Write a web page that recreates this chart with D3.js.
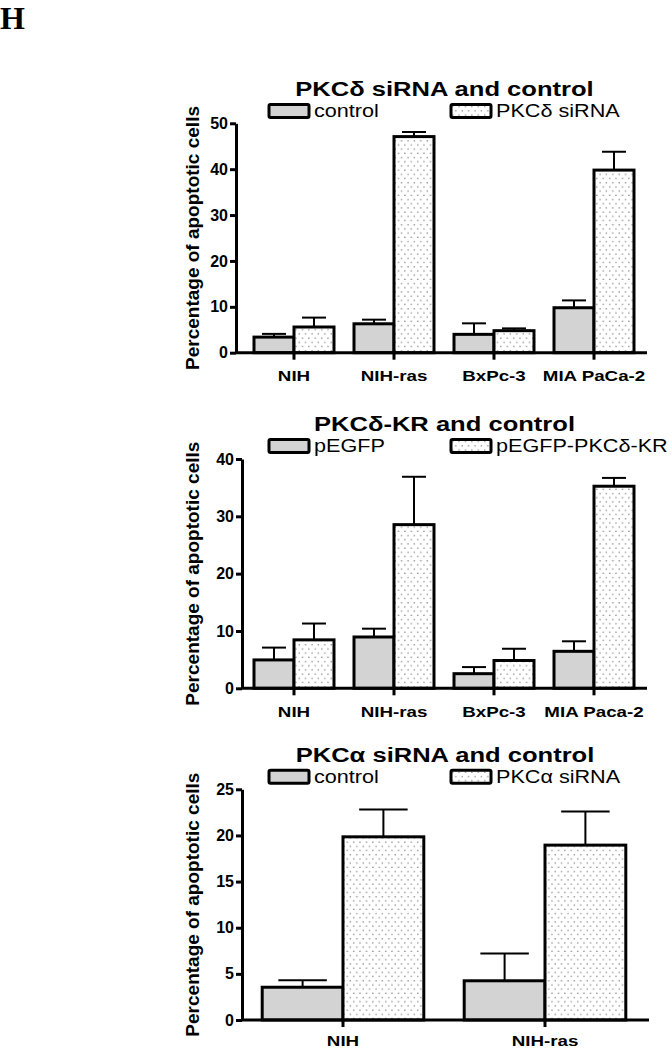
<!DOCTYPE html>
<html>
<head>
<meta charset="utf-8">
<script src="https://cdn.jsdelivr.net/npm/d3@7"></script>
<style>
    body { margin: 0; background: #fff; }
    svg text { font-family: "Liberation Sans", Arial, sans-serif; }
</style>
</head>
<body>
<div class="chart-area"></div>
<script>

// panel 1 - PKCδ siRNA
let cells1 = ["NIH", "NIH-ras", "BxPc-3", "MIA PaCa-2"];
let control1 = [3.4, 6.3, 4.0, 9.8];
let controlErr1 = [0.7, 0.9, 2.4, 1.6];
let treated1 = [5.6, 47.1, 4.8, 39.8];
let treatedErr1 = [2.05, 1.0, 0.5, 4.0];
let ticks1 = [0, 10, 20, 30, 40, 50];

// panel 2 - PKCδ-KR
let cells2 = ["NIH", "NIH-ras", "BxPc-3", "MIA Paca-2"];
let control2 = [4.95, 8.95, 2.55, 6.45];
let controlErr2 = [2.15, 1.45, 1.15, 1.75];
let treated2 = [8.45, 28.55, 4.85, 35.25];
let treatedErr2 = [2.85, 8.35, 2.05, 1.45];
let ticks2 = [0, 10, 20, 30, 40];

// panel 3 - PKCα siRNA
let cells3 = ["NIH", "NIH-ras"];
let control3 = [3.55, 4.25];
let controlErr3 = [0.75, 2.95];
let treated3 = [19.85, 18.95];
let treatedErr3 = [2.95, 3.65];
let ticks3 = [0, 5, 10, 15, 20, 25];


// stretch text horizontally (the source figure is a bit wide)
function stretch(sel, k) {
    sel.each(function () {
        let w = this.getComputedTextLength();
        d3.select(this)
            .attr("textLength", w * k)
            .attr("lengthAdjust", "spacingAndGlyphs");
    });
}

class GroupedBarVis {

    constructor(_svg, _opts) {
        this.svg = _svg;
        this.opts = _opts;
        this.displayData = [];

        this.initVis();
    };

    initVis() {
        let vis = this;
        let o = vis.opts;

        vis.g = vis.svg.append("g");

        // scales
        vis.y = d3.scaleLinear()
            .domain([0, d3.max(o.ticks)])
            .range([o.y0, o.yTop]);

        vis.x = d3.scaleBand()
            .domain(o.cells)
            .range(o.xRange)
            .paddingInner(0.2)
            .paddingOuter(0.1);

        vis.xSub = d3.scaleBand()
            .domain([0, 1])
            .range([0, vis.x.bandwidth()]);

        this.wrangleData();
    };

    wrangleData() {
        let vis = this;
        let o = vis.opts;

        o.cells.forEach(function (c, i) {
            vis.displayData.push({cell: c, series: 0, value: o.control[i], err: o.controlErr[i]});
            vis.displayData.push({cell: c, series: 1, value: o.treated[i], err: o.treatedErr[i]});
        });

        this.updateVis();
    };

    updateVis() {
        let vis = this;
        let o = vis.opts;
        let bw = vis.xSub.bandwidth();
        let cap = bw * 0.6;

        // title
        vis.g.append("text")
            .attr("x", o.titleX)
            .attr("y", o.titleY)
            .attr("text-anchor", "middle")
            .style("font-weight", "bold")
            .style("font-size", "19.5px")
            .text(o.title)
            .call(stretch, 1.31);

        // legend
        let legend = vis.g.selectAll(".legend")
            .data(o.legend)
            .enter().append("g")
            .attr("class", "legend")
            .attr("transform", (d, i) => "translate(" + o.legendX[i] + "," + (o.titleY + 8.5) + ")");

        legend.append("rect")
            .attr("width", 40)
            .attr("height", 13)
            .attr("rx", 1.5)
            .attr("fill", (d, i) => i === 0 ? "#d3d3d3" : "url(#dots)")
            .attr("stroke", "black")
            .attr("stroke-width", 3);

        legend.append("text")
            .attr("x", 45)
            .attr("y", 12.5)
            .style("font-size", "18px")
            .text(d => d)
            .call(stretch, 1.2);

        // error bars (drawn first, bar tops cover the base)
        let errs = vis.g.selectAll(".err")
            .data(vis.displayData)
            .enter().append("g")
            .attr("class", "err")
            .attr("stroke", "black")
            .attr("stroke-width", 2);

        errs.append("line")
            .attr("x1", d => vis.x(d.cell) + vis.xSub(d.series) + bw / 2)
            .attr("x2", d => vis.x(d.cell) + vis.xSub(d.series) + bw / 2)
            .attr("y1", d => vis.y(d.value))
            .attr("y2", d => vis.y(d.value + d.err));

        errs.append("line")
            .attr("x1", d => vis.x(d.cell) + vis.xSub(d.series) + bw / 2 - cap / 2)
            .attr("x2", d => vis.x(d.cell) + vis.xSub(d.series) + bw / 2 + cap / 2)
            .attr("y1", d => vis.y(d.value + d.err))
            .attr("y2", d => vis.y(d.value + d.err));

        // bars
        vis.g.selectAll(".bar")
            .data(vis.displayData)
            .enter().append("rect")
            .attr("class", "bar")
            .attr("x", d => vis.x(d.cell) + vis.xSub(d.series))
            .attr("y", d => vis.y(d.value))
            .attr("width", bw)
            .attr("height", d => vis.y(0) - vis.y(d.value))
            .attr("fill", d => d.series === 0 ? "#d3d3d3" : "url(#dots)")
            .attr("stroke", "black")
            .attr("stroke-width", 3);

        // y axis
        let yAxis = vis.g.append("g")
            .attr("transform", "translate(" + o.axisX + ",0)")
            .call(d3.axisLeft(vis.y).tickValues(o.ticks).tickSize(6).tickSizeOuter(0).tickPadding(2));
        yAxis.select(".domain").attr("stroke-width", 3);
        yAxis.selectAll(".tick line").attr("stroke-width", 3);
        yAxis.selectAll("text")
            .style("font-size", "16px")
            .style("font-weight", "bold")
            .attr("fill", "black");

        // x axis
        let xAxis = vis.g.append("g")
            .attr("transform", "translate(0," + o.y0 + ")")
            .call(d3.axisBottom(vis.x).tickSize(7).tickSizeOuter(0).tickPadding(o.labelPad));
        xAxis.select(".domain").remove();
        xAxis.selectAll(".tick line").attr("stroke-width", 3);
        xAxis.selectAll("text")
            .style("font-size", "15px")
            .style("font-weight", "bold")
            .attr("fill", "black")
            .call(stretch, 1.25);

        vis.g.append("line")
            .attr("x1", o.axisX)
            .attr("x2", o.xRange[1] + 3)
            .attr("y1", o.y0)
            .attr("y2", o.y0)
            .attr("stroke", "black")
            .attr("stroke-width", 3);

        // y axis label
        vis.g.append("text")
            .attr("transform", "translate(192," + (o.y0 + o.yTop) / 2 + ") rotate(-90)")
            .attr("text-anchor", "middle")
            .attr("dy", "0.35em")
            .style("font-size", "19px")
            .style("font-weight", "bold")
            .text("Percentage of apoptotic cells");
    };
}

let svg = d3.select(".chart-area").append("svg")
    .attr("width", 672)
    .attr("height", 1050);

// dotted fill for treated bars
let pat = svg.append("defs").append("pattern")
    .attr("id", "dots")
    .attr("patternUnits", "userSpaceOnUse")
    .attr("width", 6.4)
    .attr("height", 8.4);
pat.append("rect").attr("width", 6.4).attr("height", 8.4).attr("fill", "white");
pat.append("rect").attr("x", 1).attr("y", 1.5).attr("width", 1.3).attr("height", 1.3).attr("fill", "#8a8a8a");
pat.append("rect").attr("x", 4.2).attr("y", 5.7).attr("width", 1.3).attr("height", 1.3).attr("fill", "#8a8a8a");

// panel letter
svg.append("text")
    .attr("x", 0)
    .attr("y", 29)
    .style("font-family", "'Liberation Serif', 'Times New Roman', serif")
    .style("font-weight", "bold")
    .style("font-size", "32px")
    .text("H");

new GroupedBarVis(svg, {
    title: "PKCδ siRNA and control", titleX: 444.5, titleY: 96,
    legend: ["control", "PKCδ siRNA"], legendX: [269, 451],
    cells: cells1, control: control1, controlErr: controlErr1,
    treated: treated1, treatedErr: treatedErr1, ticks: ticks1,
    y0: 352.7, yTop: 123.3, axisX: 236, xRange: [244, 644], labelPad: 11
});

new GroupedBarVis(svg, {
    title: "PKCδ-KR and control", titleX: 444.5, titleY: 431,
    legend: ["pEGFP", "pEGFP-PKCδ-KR"], legendX: [269, 451],
    cells: cells2, control: control2, controlErr: controlErr2,
    treated: treated2, treatedErr: treatedErr2, ticks: ticks2,
    y0: 688.3, yTop: 459, axisX: 242, xRange: [244, 644], labelPad: 11
});

new GroupedBarVis(svg, {
    title: "PKCα siRNA and control", titleX: 445, titleY: 761.7,
    legend: ["control", "PKCα siRNA"], legendX: [269, 451],
    cells: cells3, control: control3, controlErr: controlErr3,
    treated: treated3, treatedErr: treatedErr3, ticks: ticks3,
    y0: 1020, yTop: 789.3, axisX: 242, xRange: [242, 646], labelPad: 8.5
});

</script>
</body>
</html>
